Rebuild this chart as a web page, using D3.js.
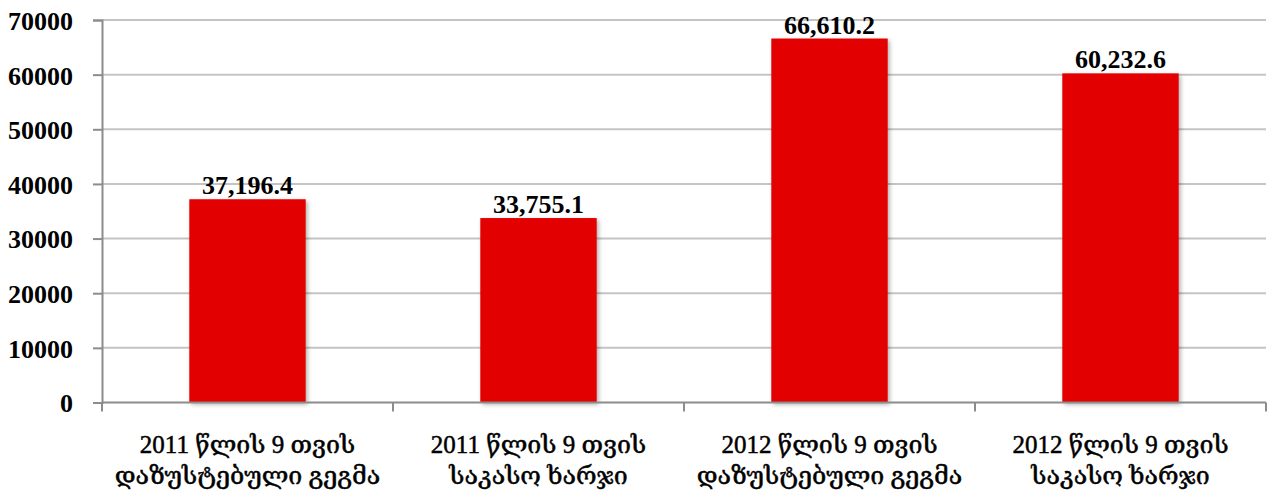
<!DOCTYPE html>
<html>
<head>
<meta charset="utf-8">
<script src="https://cdn.jsdelivr.net/npm/d3@7"></script>
<style>
html,body{margin:0;padding:0;background:#fff;}
svg{display:block;}
</style>
</head>
<body>
<svg id="chart" width="1268" height="493"></svg>
<script>
const categories = [
  ["2011 წლის 9 თვის", "დაზუსტებული გეგმა"],
  ["2011 წლის 9 თვის", "საკასო ხარჯი"],
  ["2012 წლის 9 თვის", "დაზუსტებული გეგმა"],
  ["2012 წლის 9 თვის", "საკასო ხარჯი"]
];
const values = [37196.4, 33755.1, 66610.2, 60232.6];
const valueLabels = ["37,196.4", "33,755.1", "66,610.2", "60,232.6"];
const yTicks = [0, 10000, 20000, 30000, 40000, 50000, 60000, 70000];

(function () {
const svg = d3.select("#chart");
const fontFam = "'Liberation Serif', 'DejaVu Serif', serif";
const mLeft = 102, mRight = 1266, mTop = 20, mBottom = 402.5;

const x = d3.scaleBand().domain(d3.range(categories.length)).range([mLeft, mRight]).paddingInner(0.6).paddingOuter(0.3);
const xb = d3.scaleBand().domain(d3.range(categories.length)).range([mLeft, mRight]);
const y = d3.scaleLinear().domain([0, 70000]).range([mBottom, mTop]);

const defs = svg.append("defs");
const f = defs.append("filter").attr("id", "sh").attr("x", "-10%").attr("y", "-10%").attr("width", "130%").attr("height", "130%");
f.append("feDropShadow").attr("dx", 2).attr("dy", 2).attr("stdDeviation", 2).attr("flood-color", "#000").attr("flood-opacity", 0.3);

// gridlines
svg.append("g").selectAll("line").data(yTicks.slice(1)).join("line")
  .attr("x1", mLeft).attr("x2", mRight)
  .attr("y1", d => y(d)).attr("y2", d => y(d))
  .attr("stroke", "#c4c4c4").attr("stroke-width", 2);

// bars
svg.append("g").selectAll("rect").data(values).join("rect")
  .attr("x", (d, i) => x(i)).attr("width", x.bandwidth())
  .attr("y", d => y(d)).attr("height", d => y(0) - y(d))
  .attr("fill", "#e20000").attr("filter", "url(#sh)");

// y axis
const yAxis = d3.axisLeft(y).tickValues(yTicks).tickSize(9).tickFormat(d3.format("d"));
const gy = svg.append("g").attr("transform", `translate(${mLeft},0)`).call(yAxis);
gy.select(".domain").attr("stroke", "#8c8c8c").attr("stroke-width", 2);
gy.selectAll(".tick line").attr("stroke", "#8c8c8c").attr("stroke-width", 2);
gy.selectAll(".tick text").attr("x", -29).attr("dy", "0.36em")
  .attr("font-family", fontFam).attr("font-size", 26).attr("font-weight", "bold").attr("fill", "#000");

// x axis baseline and ticks at band boundaries
svg.append("line").attr("x1", mLeft).attr("x2", mRight).attr("y1", y(0)).attr("y2", y(0))
  .attr("stroke", "#8c8c8c").attr("stroke-width", 2);
const bounds = d3.range(categories.length + 1).map(i => i < categories.length ? xb(i) : mRight);
svg.append("g").selectAll("line").data(bounds).join("line")
  .attr("x1", d => d).attr("x2", d => d).attr("y1", y(0)).attr("y2", y(0) + 9)
  .attr("stroke", "#8c8c8c").attr("stroke-width", 2);

// value labels
svg.append("g").selectAll("text").data(values).join("text")
  .attr("x", (d, i) => x(i) + x.bandwidth() / 2).attr("y", d => y(d) - 5)
  .attr("text-anchor", "middle").attr("font-family", fontFam).attr("font-size", 26)
  .attr("font-weight", "bold")
  .text((d, i) => valueLabels[i]);

// category labels
const cg = svg.append("g").selectAll("text").data(categories).join("text")
  .attr("text-anchor", "middle").attr("font-family", fontFam).attr("font-size", 25)
  .attr("font-weight", "normal").attr("fill", "#000").attr("stroke", "#000").attr("stroke-width", 0.5);
cg.selectAll("tspan").data((d, i) => d.map(t => ({t, i}))).join("tspan")
  .attr("x", d => xb(d.i) + xb.bandwidth() / 2)
  .attr("y", (d, j) => 453 + j * 31)
  .text(d => d.t);
})();
</script>
</body>
</html>
